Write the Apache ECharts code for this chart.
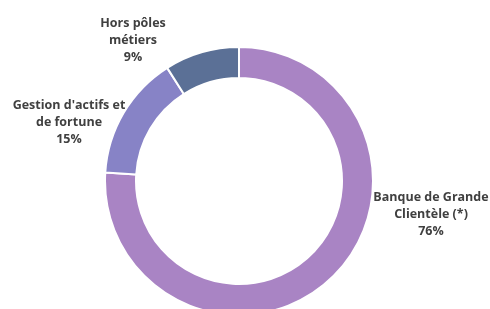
<!DOCTYPE html>
<html>
<head>
<meta charset="utf-8">
<script src="https://cdn.jsdelivr.net/npm/echarts@6/dist/echarts.min.js"></script>
<style>
  html, body { margin: 0; padding: 0; background: #fff; }
  #chart { width: 490px; height: 309px; }
</style>
</head>
<body>
<div id="chart"></div>
<script>
// données
const categories = ['Banque de Grande\nClientèle (*)', "Gestion d'actifs et\nde fortune", 'Hors pôles\nmétiers'];
const values = [76, 15, 9];
const colors = ['#A984C4', '#8783C6', '#5B7096'];

// position des étiquettes (centre du bloc de texte)
const labelPos = [[431, 214], [69, 122], [133, 40]];

const chart = echarts.init(document.getElementById('chart'));
chart.setOption({
    animation: false,
    series: [{
        type: 'pie',
        center: [239, 181],
        radius: [103, 134],
        startAngle: 90,
        clockwise: true,
        itemStyle: { borderColor: '#fff', borderWidth: 2 },
        label: {
            show: true,
            position: 'outside',
            formatter: p => p.name + '\n' + p.value + '%',
            fontFamily: 'Open Sans',
            fontWeight: 'bold',
            fontSize: 12.5,
            lineHeight: 17,
            color: '#404040',
            align: 'center',
            overflow: 'none'
        },
        labelLine: { show: false },
        labelLayout: p => ({
            x: labelPos[p.dataIndex][0],
            y: labelPos[p.dataIndex][1],
            align: 'center',
            verticalAlign: 'middle',
            width: 200
        }),
        data: categories.map((c, i) => ({
            name: c,
            value: values[i],
            itemStyle: { color: colors[i] }
        }))
    }]
});
</script>
</body>
</html>
